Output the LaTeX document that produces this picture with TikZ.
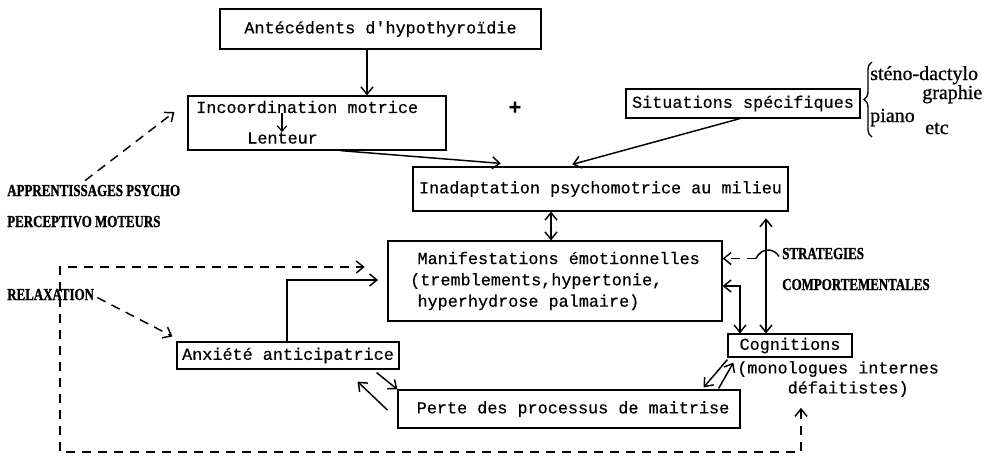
\documentclass[tikz,border=0pt]{standalone}
\usepackage{fontspec}
\newfontfamily\twf[FakeBold=0.5]{Liberation Mono}
\newfontfamily\capsf[FakeStretch=0.77,FakeBold=1.2]{Liberation Serif}
\newfontfamily\handf[FakeBold=0.8]{Liberation Serif}
\usetikzlibrary{arrows.meta,calc,decorations.pathreplacing}
\begin{document}
\begin{tikzpicture}[x=0.75pt,y=-0.75pt,
  box/.style={draw,line width=0.9pt,inner sep=0pt,
    font=\twf\fontsize{12.6}{16}\selectfont},
  tt/.style={inner sep=0pt,font=\twf\fontsize{12.6}{16}\selectfont},
  caps/.style={inner sep=0pt,font=\capsf\bfseries\fontsize{12.6}{14}\selectfont},
  hand/.style={inner sep=0pt,font=\handf\fontsize{15}{16}\selectfont},
  tip/.tip={Straight Barb[length=5.5pt,width=9pt,line width=1.1pt]},
  arr/.style={line width=1.1pt,-tip},
  darr/.style={line width=1.1pt,tip-tip},
  dsh/.style={line width=1.1pt,dash pattern=on 7pt off 5pt,-tip},
  ddsh/.style={line width=1.1pt,dash pattern=on 7pt off 5pt,tip-tip}]
\useasboundingbox (0,0) rectangle (992,455);

% boxes
\node[box,minimum width=321*0.75pt,minimum height=40*0.75pt] (ant) at (380.5,29) {Antécédents d'hypothyroïdie};
\node[box,minimum width=258*0.75pt,minimum height=54*0.75pt] (inc) at (317,123) {};
\node[tt,anchor=west] (inc1) at (196,107) {Incoordination motrice};
\node[tt,anchor=west] (inc2) at (247,138) {Lenteur};
\node[box,minimum width=234*0.75pt,minimum height=29*0.75pt] (sit) at (743,103.5) {Situations spécifiques};
\node[box,minimum width=375*0.75pt,minimum height=44*0.75pt] (inad) at (600.5,189) {Inadaptation psychomotrice au milieu};
\node[box,minimum width=334*0.75pt,minimum height=80*0.75pt,align=left] (manif) at (555,281)
  {\hspace*{5.5pt}Manifestations émotionnelles\\(tremblements,hypertonie,\\\hspace*{5.5pt}hyperhydrose palmaire)};
\node[box,minimum width=222*0.75pt,minimum height=27*0.75pt] (anx) at (288,355.5) {Anxiété anticipatrice};
\node[box,minimum width=342*0.75pt,minimum height=38*0.75pt] (perte) at (569,409) {\hspace*{6pt}Perte des processus de maitrise};
\node[box,minimum width=124*0.75pt,minimum height=23*0.75pt] (cog) at (790,345.5) {Cognitions};
\node[tt,anchor=north west,align=left,font=\twf\fontsize{12.6}{15}\selectfont] (cogtxt) at (737,361)
  {(monologues internes\\\phantom{(mono}défaitistes)};

% free labels
\node[tt,font=\twf\bfseries\fontsize{16}{16}\selectfont] (plus) at (515,108) {+};
\node[hand,anchor=base west] (steno) at (870,80) {sténo-dactylo};
\node[hand,anchor=base west] (graph) at (922,99) {graphie};
\node[hand,anchor=base west] (piano) at (870,122) {piano};
\node[hand,anchor=base west] (etc) at (925,134) {etc};
\coordinate (brT) at (872,62);
\coordinate (brB) at (872,137);
\draw[line width=1pt,decorate,decoration={brace,amplitude=6pt}] (brB) -- (brT);

\node[caps,anchor=base west] (appr) at (7,196) {APPRENTISSAGES PSYCHO};
\node[caps,anchor=base west] (perc) at (7,227) {PERCEPTIVO MOTEURS};
\node[caps,anchor=base west] (relax) at (7,300) {RELAXATION};
\node[caps,anchor=base west] (strat) at (782,259) {STRATEGIES};
\node[caps,anchor=base west] (comp) at (782,290) {COMPORTEMENTALES};

% helper coordinates
\coordinate (x367) at (367,0);
\coordinate (x282) at (282,0);
\coordinate (x551) at (551,0);
\coordinate (x766) at (766,0);
\coordinate (x740) at (740,0);
\coordinate (x287) at (287,0);
\coordinate (x801) at (801,0);
\coordinate (x60) at (60,0);
\coordinate (y286) at (0,286);
\coordinate (y280) at (0,280);
\coordinate (y452) at (0,452);
\coordinate (y267) at (0,267);

% connectors
\draw[arr] (x367 |- ant.south) -- (x367 |- inc.north);
\draw[line width=0.9pt,-{Straight Barb[length=4pt,width=7pt]}] (x282 |- inc1.south) -- (x282 |- inc2.north);
\draw[arr] ($(inc.south west)!0.59!(inc.south east)$) -- ($(inad.north west)!0.235!(inad.north east)+(0,-3)$);
\draw[arr] ($(sit.south west)!0.487!(sit.south east)$) -- ($(inad.north west)!0.425!(inad.north east)+(0,-2)$);
\draw[darr] (x551 |- inad.south) -- (x551 |- manif.north);
\draw[darr,shorten <=5pt] (x766 |- inad.south) -- (x766 |- cog.north);
\draw[darr] (x740 |- cog.north) |- (y286 -| manif.east);
\draw[arr] ($(cog.south west)+(0,2)$) -- ($(perte.north east)+(-37,-2)$);
\draw[arr] ($(perte.north east)+(-22,-1)$) -- ($(cog.south west)+(6,5)$);
\draw[arr] ($(anx.south east)+(-23,3)$) -- (perte.north west);
\draw[arr] ($(perte.west)+(-10,1)$) -- ($(anx.south east)+(-42,12)$);
\draw[arr,shorten >=7pt] (x287 |- anx.north) |- (y280 -| manif.west);

% strategies hop + dashed arrow
\coordinate (hopR) at ($(strat.west)+(-3,3)$);
\coordinate (hopL) at ($(hopR)+(-23,2)$);
\draw[line width=1.1pt] (hopR) .. controls ($(hopR)+(-5,-9)$) and ($(hopL)+(5,-11)$) .. (hopL);
\draw[dsh] (hopL) -- (hopL -| manif.east);

% dashed loop
\draw[ddsh,shorten <=8pt,shorten >=17pt] (x801 |- cogtxt.south) -- (x801 |- y452) -| (x60 |- y267) -- (y267 -| manif.west);
\draw[dsh] ($(relax.east)+(3,3)$) -- ($(anx.north west)+(-4,-5)$);
\draw[dsh] ($(appr.north west)+(78,-4)$) -- ($(inc.west)+(-13,-11)$);
\end{tikzpicture}
\end{document}
